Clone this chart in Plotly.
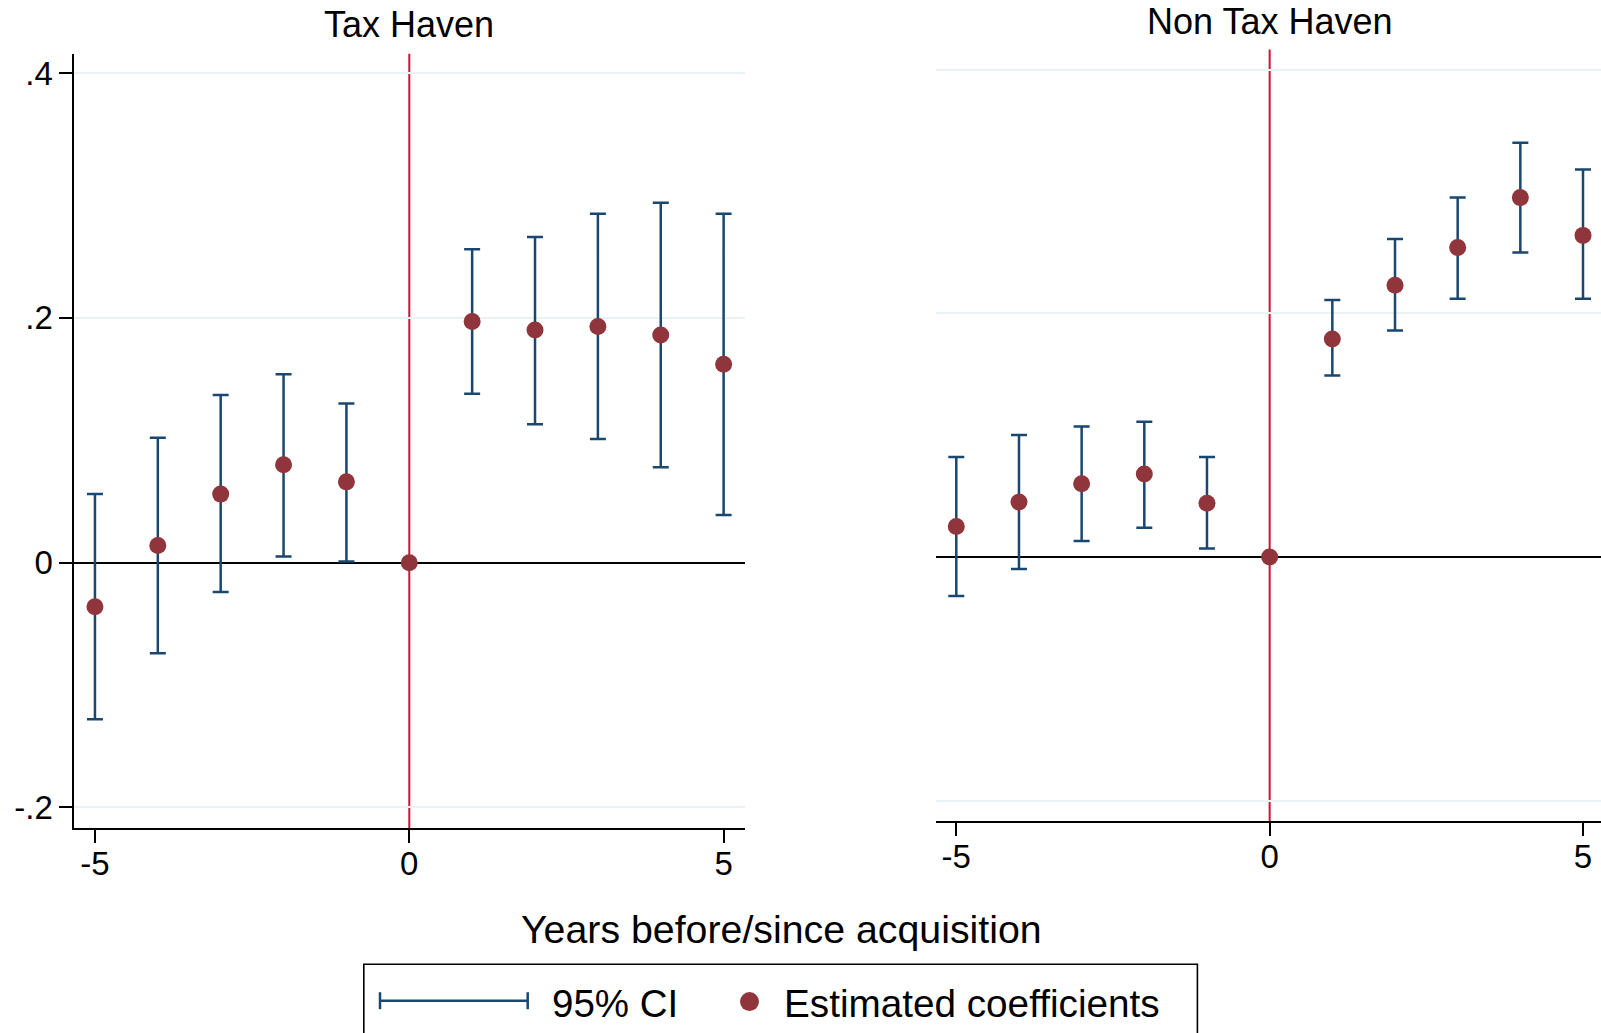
import plotly.graph_objects as go

# Event-study coefficients (years relative to acquisition)
years = [-5, -4, -3, -2, -1, 0, 1, 2, 3, 4, 5]

# Tax Haven panel
th_coef = [-0.036, 0.014, 0.056, 0.080, 0.066, 0.0, 0.197, 0.190, 0.193, 0.186, 0.162]
th_lo = [-0.128, -0.074, -0.024, 0.005, 0.001, None, 0.138, 0.113, 0.101, 0.078, 0.039]
th_hi = [0.056, 0.102, 0.137, 0.154, 0.130, None, 0.256, 0.266, 0.285, 0.294, 0.285]

# Non Tax Haven panel
nth_coef = [0.025, 0.045, 0.060, 0.068, 0.044, 0.0, 0.179, 0.223, 0.254, 0.295, 0.264]
nth_lo = [-0.032, -0.010, 0.013, 0.024, 0.007, None, 0.149, 0.186, 0.212, 0.250, 0.212]
nth_hi = [0.082, 0.100, 0.107, 0.111, 0.082, None, 0.211, 0.261, 0.295, 0.340, 0.318]

panel_titles = ["Tax Haven", "Non Tax Haven"]
x_tickvals = [-5, 0, 5]
x_ticktext = ["-5", "0", "5"]
y_tickvals = [-0.2, 0.0, 0.2, 0.4]
y_ticktext = ["-.2", "0", ".2", ".4"]
x_title = "Years before/since acquisition"
legend_labels = ["95% CI", "Estimated coefficients"]

W, H = 1601, 1033
NAVY = "#1A476F"
MAROON = "#90353B"
RED = "#C8143C"
GRID = "#EAF2F3"
FONT = "Liberation Sans, Arial, Helvetica, sans-serif"


def px(x):
    return x / W


def py(y):
    return 1 - y / H


fig = go.Figure()


def add_panel(coef, lo, hi, xa, ya):
    ci_x = [x for x, l in zip(years, lo) if l is not None]
    ci_y = [c for c, l in zip(coef, lo) if l is not None]
    up = [h - c for c, h, l in zip(coef, hi, lo) if l is not None]
    dn = [c - l for c, l in zip(coef, lo) if l is not None]
    fig.add_trace(go.Scatter(
        x=ci_x, y=ci_y, mode="markers", xaxis=xa, yaxis=ya,
        marker=dict(color="rgba(0,0,0,0)", size=1),
        error_y=dict(type="data", symmetric=False, array=up, arrayminus=dn,
                     color=NAVY, thickness=2.5, width=8),
        showlegend=False, hoverinfo="skip"))
    fig.add_trace(go.Scatter(
        x=years, y=coef, mode="markers", xaxis=xa, yaxis=ya,
        marker=dict(color=MAROON, size=17, line=dict(width=0)),
        showlegend=False))


add_panel(th_coef, th_lo, th_hi, "x", "y")
add_panel(nth_coef, nth_lo, nth_hi, "x2", "y2")

axis_common = dict(tickfont=dict(family=FONT, size=33, color="black"))

fig.update_layout(
    width=W, height=H,
    margin=dict(l=0, r=0, t=0, b=0),
    paper_bgcolor="white", plot_bgcolor="white",
    showlegend=False,
    xaxis=dict(domain=[px(74.2), px(745)], range=[-5.33, 5.34], anchor="y",
               tickvals=x_tickvals, ticktext=x_ticktext, ticks="outside",
               ticklen=13, tickwidth=1.6, tickcolor="black", ticklabelstandoff=-8,
               showline=True, linecolor="black", linewidth=1.6,
               showgrid=False, zeroline=False, **axis_common),
    yaxis=dict(domain=[py(828.3), py(53.8)], range=[-0.217, 0.4157], anchor="x",
               tickvals=y_tickvals, ticktext=y_ticktext, ticks="outside",
               ticklen=13, tickwidth=1.6, tickcolor="black",
               showline=True, linecolor="black", linewidth=1.6,
               showgrid=True, gridcolor=GRID, gridwidth=1.6,
               zeroline=True, zerolinecolor="black", zerolinewidth=2,
               **axis_common),
    xaxis2=dict(domain=[px(935.8), 1.0], range=[-5.327, 5.287], anchor="y2",
                tickvals=x_tickvals, ticktext=x_ticktext, ticks="outside",
                ticklen=13, tickwidth=1.6, tickcolor="black", ticklabelstandoff=-8,
                showline=True, linecolor="black", linewidth=1.6,
                showgrid=False, zeroline=False, **axis_common),
    yaxis2=dict(domain=[py(821.2), py(49.4)], range=[-0.217, 0.4167], anchor="x2",
                tickvals=y_tickvals, showticklabels=False, ticks="",
                showline=False, showgrid=True, gridcolor=GRID, gridwidth=1.6,
                zeroline=True, zerolinecolor="black", zerolinewidth=2),
)

shapes = []
# vertical reference line at the acquisition year
for xr, yr in (("x", "y domain"), ("x2", "y2 domain")):
    shapes.append(dict(type="line", xref=xr, yref=yr, x0=0, x1=0, y0=0, y1=1,
                       line=dict(color=RED, width=2), layer="below"))

# legend box and keys
shapes.append(dict(type="rect", xref="paper", yref="paper",
                   x0=px(363.8), x1=px(1197.4), y0=py(1060), y1=py(964.3),
                   line=dict(color="black", width=1.6), fillcolor="rgba(0,0,0,0)"))
ky = 1000.7
shapes.append(dict(type="line", xref="paper", yref="paper",
                   x0=px(380), x1=px(527.7), y0=py(ky), y1=py(ky),
                   line=dict(color=NAVY, width=2.5)))
for cx in (380, 527.7):
    shapes.append(dict(type="line", xref="paper", yref="paper",
                       x0=px(cx), x1=px(cx), y0=py(ky - 8.5), y1=py(ky + 8.5),
                       line=dict(color=NAVY, width=2.5)))
r = 9.5
shapes.append(dict(type="circle", xref="paper", yref="paper",
                   x0=px(749.5 - r), x1=px(749.5 + r),
                   y0=py(1001.6 + r), y1=py(1001.6 - r),
                   fillcolor=MAROON, line=dict(width=0)))
fig.update_layout(shapes=shapes)

annotations = [
    dict(text=panel_titles[0], x=px(409.4), y=py(25), xref="paper", yref="paper",
         xanchor="center", yanchor="middle", showarrow=False,
         font=dict(family=FONT, size=36, color="black")),
    dict(text=panel_titles[1], x=px(1269.5), y=py(22), xref="paper", yref="paper",
         xanchor="center", yanchor="middle", showarrow=False,
         font=dict(family=FONT, size=36, color="black")),
    dict(text=x_title, x=px(781), y=py(929), xref="paper", yref="paper",
         xanchor="center", yanchor="middle", showarrow=False,
         font=dict(family=FONT, size=39.3, color="black")),
    dict(text=legend_labels[0], x=px(550.4), y=py(1003), xref="paper", yref="paper",
         xanchor="left", yanchor="middle", showarrow=False,
         font=dict(family=FONT, size=38.5, color="black")),
    dict(text=legend_labels[1], x=px(782.3), y=py(1003), xref="paper", yref="paper",
         xanchor="left", yanchor="middle", showarrow=False,
         font=dict(family=FONT, size=38.7, color="black")),
]
fig.update_layout(annotations=annotations)

fig.write_html("out.html")
